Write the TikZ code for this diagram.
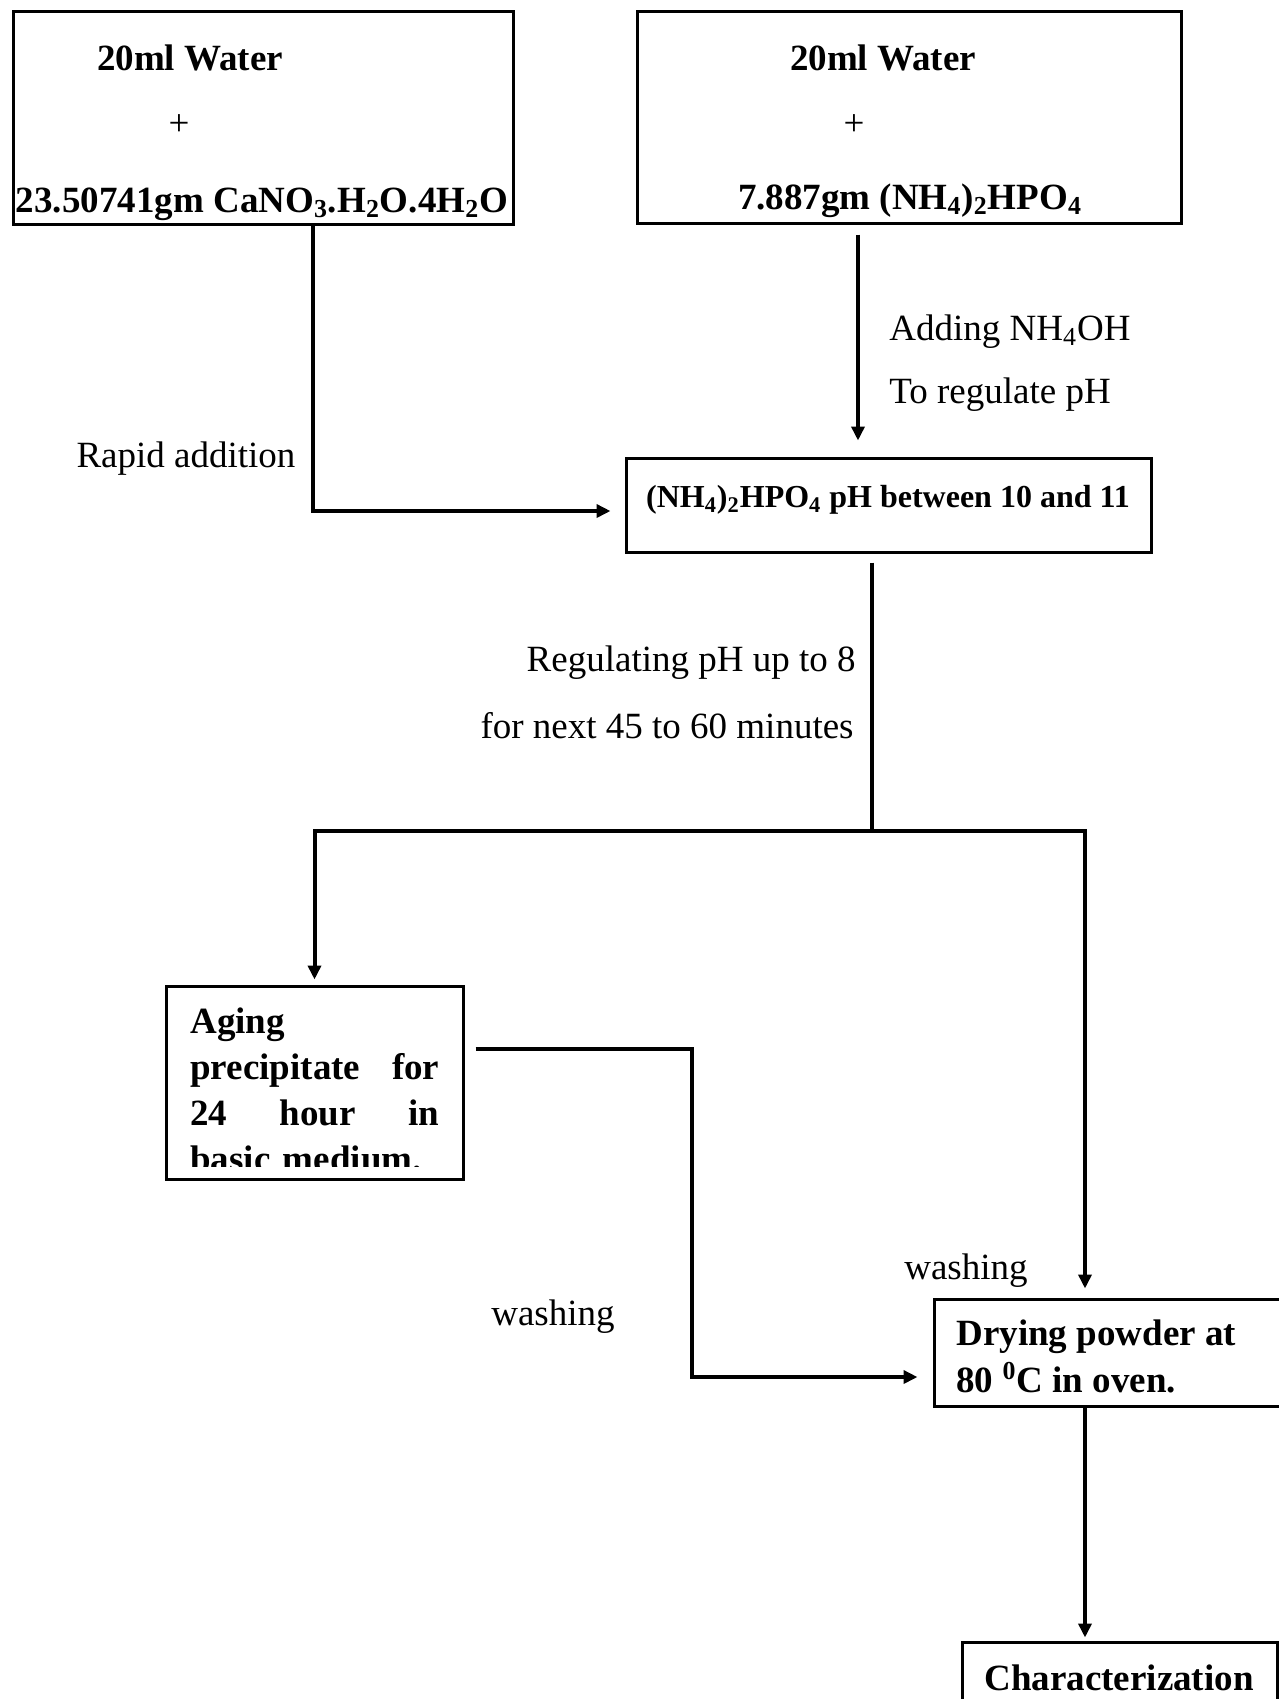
\documentclass[tikz,border=0pt]{standalone}
\usepackage{fontspec}
\setmainfont{Liberation Serif}
\usetikzlibrary{arrows.meta,fit}

\tikzset{
  stepbox/.style={draw, line width=1.5pt, inner sep=0pt},
  flow/.style={line width=2pt, -{Triangle[length=7pt,width=6.5pt]}},
  plain/.style={line width=2pt},
  txt/.style={inner sep=0pt, font=\fontsize{18.5}{23}\selectfont},
  btxt/.style={inner sep=0pt, font=\fontsize{18.5}{23}\selectfont\bfseries},
}
\newcommand{\fullline}[1]{\leavevmode\hbox to 124.5pt{#1}}

\begin{document}
\begin{tikzpicture}[x=0.5pt, y=-0.5pt]
		%%%%% START %%%%%
		\useasboundingbox (0,0) rectangle (1279,1699);
		
		\node[stepbox, fit={(13,11) (513,224)}] (water1) {};
		\node[stepbox, fit={(637,11) (1181,223)}] (water2) {};
		\node[stepbox, fit={(626,458) (1151,552)}] (phbox) {};
		\node[stepbox, fit={(166,986) (463,1179)}] (aging) {};
		\node[stepbox, fit={(934,1299) (1286,1406)}] (drying) {};
		\node[stepbox, fit={(962,1642) (1277,1730)}] (charact) {};
		
		\node[btxt, anchor=base] (w1a) at (190,70) {20ml Water};
		\node[txt, anchor=base] (w1b) at (179,135) {+};
		\node[btxt, anchor=base] (w1c) at (262,212) {23.50741gm CaNO\textsubscript{3}.H\textsubscript{2}O.4H\textsubscript{2}O};
		
		\node[btxt, anchor=base] (w2a) at (883,70) {20ml Water};
		\node[txt, anchor=base] (w2b) at (854,135) {+};
		\node[btxt, anchor=base] (w2c) at (910,209) {7.887gm (NH\textsubscript{4})\textsubscript{2}HPO\textsubscript{4}};
		
		\node[txt, anchor=base west] (addnh) at (889,340) {Adding NH\textsubscript{4}OH};
		\node[txt, anchor=base west] (regph) at (889,403) {To regulate pH};
		\node[txt, anchor=base] (rapidtxt) at (186,467) {Rapid addition};
		
		\node[btxt, anchor=base, font=\fontsize{16}{19}\bfseries] (phtxt) at (888,507) {(NH\textsubscript{4})\textsubscript{2}HPO\textsubscript{4} pH between 10 and 11};
		
		\node[txt, anchor=base east] (upto) at (856,671) {Regulating pH up to 8};
		\node[txt, anchor=base east] (next) at (854,738) {for next 45 to 60 minutes};
		
		\begin{scope}
			\clip (166,986) rectangle (463,1166);
			\node[btxt, anchor=north west, text width=124.5pt, align=left] (agetxt) at (190,1007)
			{Aging\\ \fullline{precipitate\hfill for}\\ \fullline{24\hfill hour\hfill in}\\ basic medium.};
		\end{scope}
		
		\node[txt, anchor=base] (wash1) at (553,1325) {washing};
		\node[txt, anchor=base] (wash2) at (966,1279) {washing};
		
		\node[btxt, anchor=base west] (dry1) at (956,1345) {Drying powder at};
		\node[btxt, anchor=base west] (dry2) at (956,1392) {80 \textsuperscript{0}C in oven.};
		\node[btxt, anchor=base] (chartxt) at (1119,1690) {Characterization};
		
		% connectors
		\coordinate (rapid) at (313,511);
		\draw[flow, shorten >=7pt] (water1.south -| rapid) -- (rapid) -- (rapid -| phbox.west);
		
		\coordinate (nhfeed) at (858,0);
		\draw[flow, shorten <=5pt, shorten >=8pt] (water2.south -| nhfeed) -- (phbox.north -| nhfeed);
		
		\coordinate (split) at (872,831);
		\draw[plain, shorten <=4.5pt] (phbox.south -| split) -- (split);
		\draw[flow, shorten >=2.5pt] (split) -| (aging.north);
		\coordinate (rjoin) at (1085,831);
		\draw[flow, shorten >=4.5pt] (split) -- (rjoin) -- (rjoin |- drying.north);
		
		\coordinate (bend) at (692,1049);
		\coordinate (wash) at (692,1377);
		\draw[flow, shorten <=5.5pt, shorten >=7.5pt] (aging.east |- bend) -- (bend) -- (wash) -- (wash -| drying.west);
		
		\draw[flow, shorten >=1.5pt] (drying.south -| rjoin) -- (charact.north -| rjoin);
		
		%%%%% END %%%%%
\end{tikzpicture}
\end{document}
